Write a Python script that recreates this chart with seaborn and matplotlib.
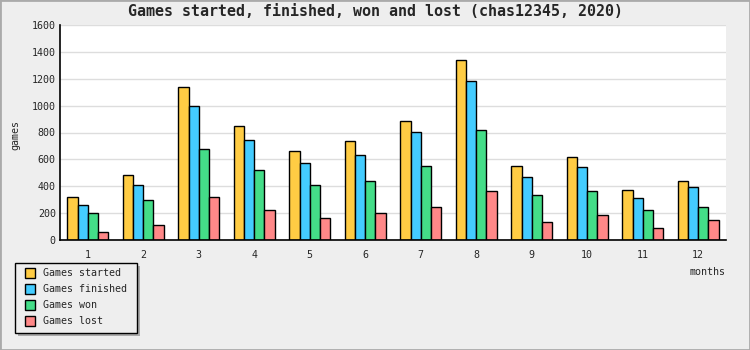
import matplotlib
matplotlib.use("Agg")
import matplotlib.pyplot as plt
import matplotlib.patches as mpatches
from matplotlib.ticker import MultipleLocator, FixedLocator
import seaborn as sns
import pandas as pd

months = [str(m) for m in range(1, 13)]
series = ["Games started", "Games finished", "Games won", "Games lost"]
started = [318, 482, 1138, 847, 661, 735, 884, 1339, 549, 616, 370, 437]
finished = [258, 407, 996, 743, 571, 631, 802, 1183, 467, 542, 311, 393]
won = [199, 296, 676, 519, 407, 437, 549, 817, 333, 363, 221, 243]
lost = [57, 109, 318, 221, 161, 199, 243, 363, 132, 184, 87, 147]
colors = ["#ffcc44", "#44ccff", "#44dd88", "#ff8888"]

rows = []
for name, vals in zip(series, [started, finished, won, lost]):
    for m, v in zip(months, vals):
        rows.append({"month": m, "series": name, "games": v})
df = pd.DataFrame(rows)

sns.set_style("white")
plt.rcParams["font.family"] = ["DejaVu Sans Mono"]

fig = plt.figure(figsize=(7.5, 3.5), dpi=100)
fig.patch.set_facecolor("#eeeeee")
ax = fig.add_axes([60 / 750, 1 - 240 / 350, 666 / 750, 215 / 350])
ax.set_facecolor("white")

sns.barplot(data=df, x="month", y="games", hue="series", order=months,
            hue_order=series, palette=colors, width=0.73, ax=ax,
            edgecolor="black", linewidth=1.0, saturation=1, legend=False)

ax.set_xlim(-0.5, 11.5)
ax.set_ylim(0, 1600)
ax.yaxis.set_major_locator(MultipleLocator(200))
ax.yaxis.set_minor_locator(MultipleLocator(100))
ax.xaxis.set_minor_locator(FixedLocator([i + 0.5 for i in range(12)]))
ax.grid(axis="y", which="major", color="#dddddd", linewidth=1)
ax.set_axisbelow(True)
for s in ["top", "right"]:
    ax.spines[s].set_visible(False)
for s in ["left", "bottom"]:
    ax.spines[s].set_color("black")
    ax.spines[s].set_linewidth(1.2)
ax.tick_params(axis="y", which="major", direction="in", length=5, width=1,
               labelsize=7.2, pad=3, color="black")
ax.tick_params(axis="y", which="minor", direction="in", length=3, width=1, color="black")
ax.tick_params(axis="x", which="major", length=0, labelsize=7.2, pad=7)
ax.tick_params(axis="x", which="minor", direction="in", length=5, width=1, color="black")
ax.set_xlabel("")
ax.set_ylabel("")

fig.text(0.5, 1 - 12 / 350, "Games started, finished, won and lost (chas12345, 2020)",
         ha="center", va="center", fontsize=10.8, fontweight="semibold")
fig.text(15 / 750, 1 - 135 / 350, "games", rotation=90, ha="center", va="center", fontsize=7.2)
fig.text(726 / 750, 1 - 272 / 350, "months", ha="right", va="center", fontsize=7.2)

# legend with shadow
lx0, ly0, lw, lh = 15, 263, 122, 70
shadow = mpatches.Rectangle(((lx0 + 3) / 750, 1 - (ly0 + lh + 3) / 350), lw / 750, lh / 350,
                            transform=fig.transFigure, facecolor="#aaaaaa", edgecolor="none")
box = mpatches.Rectangle((lx0 / 750, 1 - (ly0 + lh) / 350), lw / 750, lh / 350,
                         transform=fig.transFigure, facecolor="#eeeeee", edgecolor="black",
                         linewidth=1)
fig.patches.extend([shadow, box])
for i, (name, c) in enumerate(zip(series, colors)):
    yc = 273 + i * 16
    fig.patches.append(mpatches.Rectangle((25 / 750, 1 - (yc + 5) / 350), 10 / 750, 10 / 350,
                                          transform=fig.transFigure, facecolor=c,
                                          edgecolor="black", linewidth=1))
    fig.text(43 / 750, 1 - yc / 350, name, ha="left", va="center", fontsize=7.2)

# figure border
fig.patches.append(mpatches.Rectangle((0, 0), 1, 1, transform=fig.transFigure,
                                      facecolor="none", edgecolor="#aaaaaa", linewidth=2))

fig.savefig("out.png", dpi=100, facecolor=fig.get_facecolor())
